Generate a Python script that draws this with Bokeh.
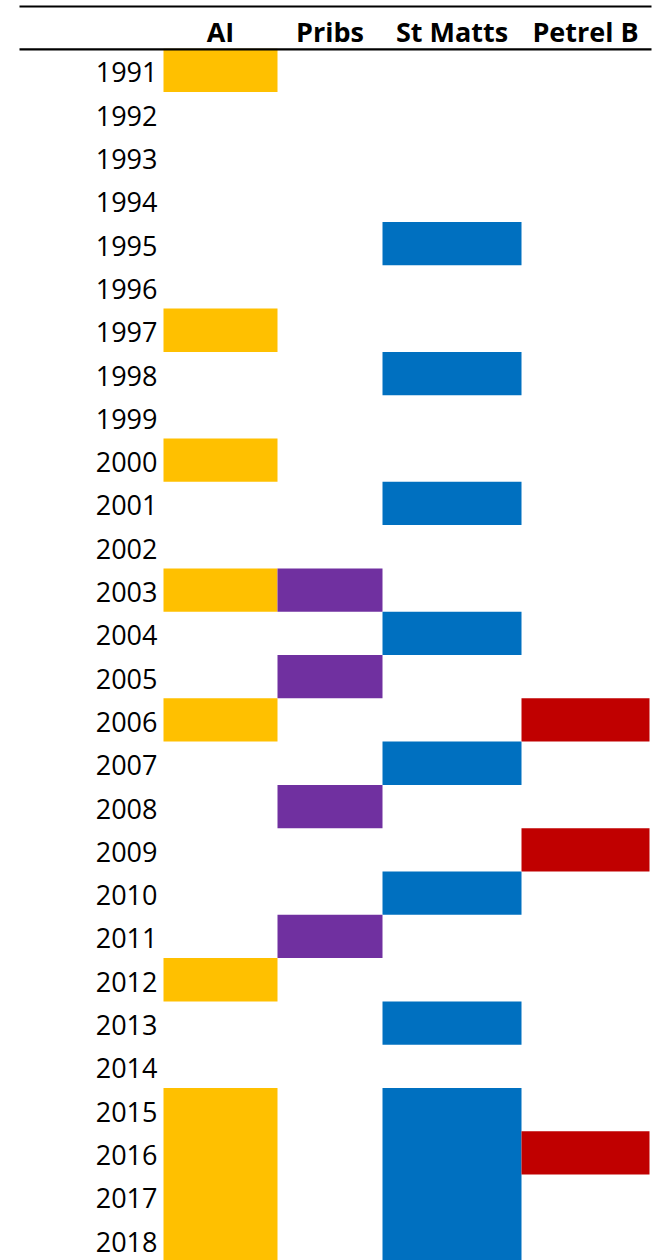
from bokeh.plotting import figure
from bokeh.models import Range1d, ColumnDataSource
from bokeh.core.properties import value
from bokeh.embed import file_html
from bokeh.resources import INLINE

# ---- data ----
years = list(range(1991, 2019))
sites = ["AI", "Pribs", "St Matts", "Petrel B"]
colors = ["#FFC000", "#7030A0", "#0070C0", "#C00000"]
ai_years = [1991, 1997, 2000, 2003, 2006, 2012, 2015, 2016, 2017, 2018]
pribs_years = [2003, 2005, 2008, 2011]
stmatts_years = [1995, 1998, 2001, 2004, 2007, 2010, 2013, 2015, 2016, 2017, 2018]
petrel_years = [2006, 2009, 2016]
site_years = [ai_years, pribs_years, stmatts_years, petrel_years]

# ---- layout (screen-pixel style coordinates) ----
W, H = 659, 1260
PAGE_OFF = 0
ROW_H = 43.3
ROW0_TOP = 48.3          # screen y of top of first row
COL_EDGES = [163, 277, 382, 521, 649]
LABEL_RIGHT = 157
LINE_X0, LINE_X1 = 19, 651
TOP_LINE_Y = 6
HEAD_LINE_Y = 48.8
HEAD_BASE_Y = 30.5


def scr_to_year(sy):
    center0 = ROW0_TOP + ROW_H / 2
    return years[0] + (sy - center0) / ROW_H


def runs(ys):
    """Group consecutive years into (first, last) runs."""
    out = []
    for y in sorted(ys):
        if out and y == out[-1][1] + 1:
            out[-1][1] = y
        else:
            out.append([y, y])
    return out


y_top = scr_to_year(PAGE_OFF)
y_bot = scr_to_year(PAGE_OFF + H)

p = figure(width=W, height=H, output_backend="svg", toolbar_location=None,
           x_range=Range1d(PAGE_OFF, PAGE_OFF + W),
           y_range=Range1d(y_bot, y_top),
           x_axis_type=None, y_axis_type=None, min_border=0)
p.outline_line_color = None
p.xgrid.visible = False
p.ygrid.visible = False
p.background_fill_color = "white"
p.border_fill_color = "white"

# cells
for i, (s, c, ys) in enumerate(zip(sites, colors, site_years)):
    rr = runs(ys)
    src = ColumnDataSource(dict(
        left=[COL_EDGES[i]] * len(rr), right=[COL_EDGES[i + 1]] * len(rr),
        top=[a - 0.5 for a, b in rr], bottom=[b + 0.5 for a, b in rr]))
    p.quad(left="left", right="right", top="top", bottom="bottom", source=src,
           fill_color=c, line_color=None)

# year labels
p.text(x=[LABEL_RIGHT] * len(years), y=years, text=[str(y) for y in years],
       text_font=value("Open Sans"), text_font_size="27px", text_color="#000000",
       text_align="right", text_baseline="middle", y_offset=2)

# headers
centers = [(COL_EDGES[i] + COL_EDGES[i + 1]) / 2 for i in range(len(sites))]
p.text(x=centers, y=[scr_to_year(HEAD_BASE_Y)] * len(sites), text=sites,
       text_font=value("Open Sans"), text_font_size="27px", text_font_style="bold",
       text_color="#000000", text_align="center", text_baseline="alphabetic")

# rules
p.segment(x0=[LINE_X0, LINE_X0], x1=[LINE_X1, LINE_X1],
          y0=[scr_to_year(TOP_LINE_Y), scr_to_year(HEAD_LINE_Y)],
          y1=[scr_to_year(TOP_LINE_Y), scr_to_year(HEAD_LINE_Y)],
          line_color="#000000", line_width=2.2)

open("out.html", "w").write(file_html(p, INLINE))
